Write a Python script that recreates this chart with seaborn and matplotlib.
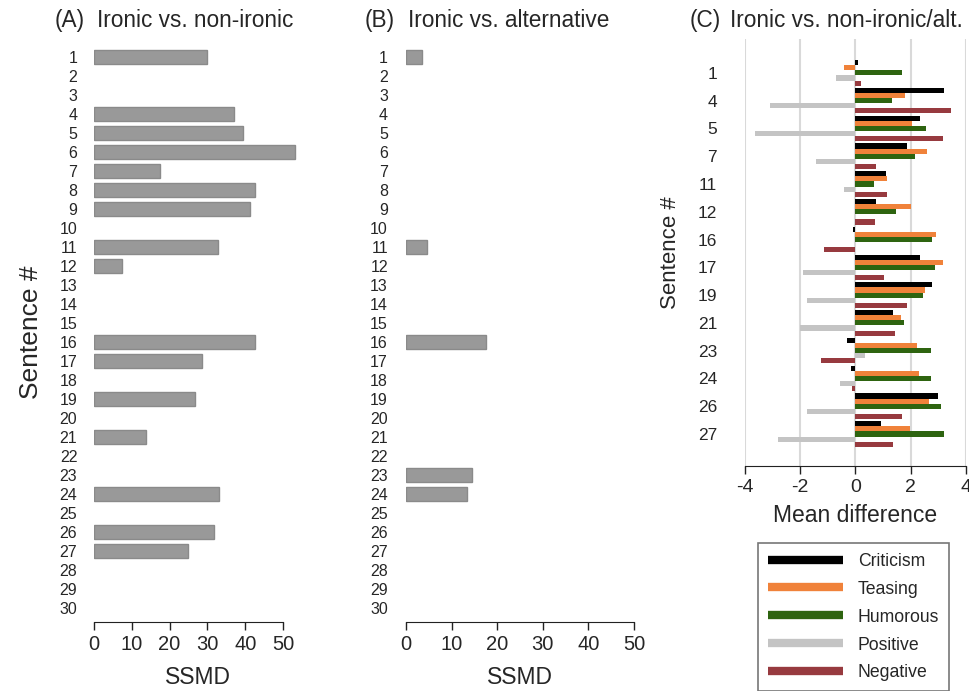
import matplotlib
matplotlib.use("Agg")
import matplotlib.pyplot as plt
from matplotlib.lines import Line2D
import numpy as np
import pandas as pd
import seaborn as sns

# ---------------- data ----------------
sentences = [str(i) for i in range(1, 31)]
ssmd_nonironic = [30.0, None, None, 37.0, 39.4, 53.1, 17.5, 42.7, 41.2, None,
                  32.8, 7.3, None, None, None, 42.7, 28.5, None, 26.7, None,
                  13.8, None, None, 33.2, None, 31.8, 24.9, None, None, None]
ssmd_alternative = [3.4, None, None, None, None, None, None, None, None, None,
                    4.6, None, None, None, None, 17.5, None, None, None, None,
                    None, None, 14.4, 13.4, None, None, None, None, None, None]

sentences_c = ["1", "4", "5", "7", "11", "12", "16", "17", "19", "21", "23", "24", "26", "27"]
criticism = [0.10, 3.22, 2.35, 1.89, 1.12, 0.74, -0.10, 2.33, 2.79, 1.35, -0.31, -0.15, 3.01, 0.94]
teasing   = [-0.42, 1.81, 2.04, 2.59, 1.15, 2.00, 2.93, 3.19, 2.51, 1.66, 2.25, 2.30, 2.67, 1.97]
humorous  = [1.69, 1.33, 2.56, 2.18, 0.68, 1.49, 2.78, 2.88, 2.44, 1.77, 2.75, 2.76, 3.09, 3.22]
positive  = [-0.71, -3.08, -3.63, -1.41, -0.42, 0.0, 0.0, -1.89, -1.74, -2.02, 0.35, -0.56, -1.74, -2.81]
negative  = [0.19, 3.45, 3.16, 0.76, 1.16, 0.70, -1.14, 1.03, 1.89, 1.45, -1.23, -0.13, 1.70, 1.35]

categories = ["Criticism", "Teasing", "Humorous", "Positive", "Negative"]
cat_colors = ["#000000", "#f0823a", "#2e6410", "#c4c4c4", "#973a3f"]

# ---------------- style ----------------
sns.set_style("white")
plt.rcParams["font.family"] = ["Liberation Sans", "DejaVu Sans"]

W, H = 969, 691
fig = plt.figure(figsize=(W / 100, H / 100), dpi=100)


def px_axes(left, right, top, bottom):
    return fig.add_axes([left / W, 1 - bottom / H, (right - left) / W, (bottom - top) / H])


bar_gray = "#999999"

# ---------------- panels A and B ----------------
def ssmd_panel(ax, values, xmax):
    df = pd.DataFrame({"sentence": sentences,
                       "ssmd": [np.nan if v is None else v for v in values]})
    sns.barplot(data=df, x="ssmd", y="sentence", order=sentences, orient="h",
                color=bar_gray, saturation=1, width=0.7, ax=ax,
                edgecolor="#8a8a8a", linewidth=1)
    ax.set_xlim(0, xmax)
    ax.set_ylim(29.74, -0.74)
    for s in ["left", "top", "right"]:
        ax.spines[s].set_visible(False)
    ax.spines["bottom"].set_bounds(0, 50)
    ax.spines["bottom"].set_color("#222222")
    ax.set_xticks([0, 10, 20, 30, 40, 50])
    ax.tick_params(axis="x", direction="out", length=6, width=1, color="#222222",
                   labelsize=14.5, pad=3, bottom=True)
    ax.tick_params(axis="y", length=0, labelsize=11.5)
    ax.set_xlabel("SSMD", fontsize=16.5, labelpad=9)
    ax.set_ylabel("")


axA = px_axes(94, 94 + 55 * 3.78, 43, 622)
ssmd_panel(axA, ssmd_nonironic, 55)
axA.tick_params(axis="y", pad=12)
axA.set_ylabel("Sentence #", fontsize=19, labelpad=12)

axB = px_axes(406, 634, 43, 622)
ssmd_panel(axB, ssmd_alternative, 50)
axB.tick_params(axis="y", pad=13)

# ---------------- panel C ----------------
dfc = pd.DataFrame({"sentence": sentences_c, "Criticism": criticism, "Teasing": teasing,
                    "Humorous": humorous, "Positive": positive, "Negative": negative})
dfc_long = dfc.melt(id_vars="sentence", var_name="type", value_name="diff")

axC = px_axes(745, 965.7, 39, 466)
for gx in [-4, -2, 0, 2, 4]:
    axC.axvline(gx, color="#d9d9d9", lw=1.5, zorder=0)
sns.barplot(data=dfc_long, x="diff", y="sentence", hue="type", order=sentences_c,
            hue_order=categories, palette=cat_colors, saturation=1, orient="h",
            width=0.92, ax=axC, legend=False, linewidth=0)
axC.set_xlim(-4, 4)
axC.set_ylim(14.15, -1.22)
for s in ["left", "top", "right"]:
    axC.spines[s].set_visible(False)
axC.spines["bottom"].set_bounds(-4, 4)
axC.spines["bottom"].set_color("#222222")
axC.set_xticks([-4, -2, 0, 2, 4])
axC.set_xticklabels(["-4", "-2", "0", "2", "4"])
axC.tick_params(axis="x", direction="out", length=6, width=1, color="#222222",
                labelsize=14, pad=3, bottom=True)
axC.tick_params(axis="y", length=0, labelsize=12.5, pad=20)
axC.set_xlabel("Mean difference", fontsize=16.5, labelpad=6)
axC.set_ylabel("Sentence #", fontsize=16, labelpad=12)

# ---------------- titles ----------------
title_fs = 16.3
yb = 1 - 27 / H
for xl, xt, lab, txt in [(55, 97, "(A)", "Ironic vs. non-ironic"),
                         (365, 408, "(B)", "Ironic vs. alternative"),
                         (690, 730, "(C)", "Ironic vs. non-ironic/alt.")]:
    fig.text(xl / W, yb, lab, fontsize=title_fs, va="baseline", ha="left")
    fig.text(xt / W, yb, txt, fontsize=title_fs, va="baseline", ha="left")

# ---------------- legend ----------------
handles = [Line2D([0], [0], color=c, lw=6, solid_capstyle="butt") for c in cat_colors]
leg = fig.legend(handles, categories, loc="upper left",
                 bbox_to_anchor=(758 / W, 1 - 543 / H), borderaxespad=0,
                 fontsize=12.7, handlelength=4.25, handletextpad=0.85,
                 labelspacing=0.62, borderpad=0.55, frameon=True, fancybox=False)
leg.get_frame().set_edgecolor("#555555")
leg.get_frame().set_linewidth(1.2)

fig.savefig("out.png", dpi=100)
